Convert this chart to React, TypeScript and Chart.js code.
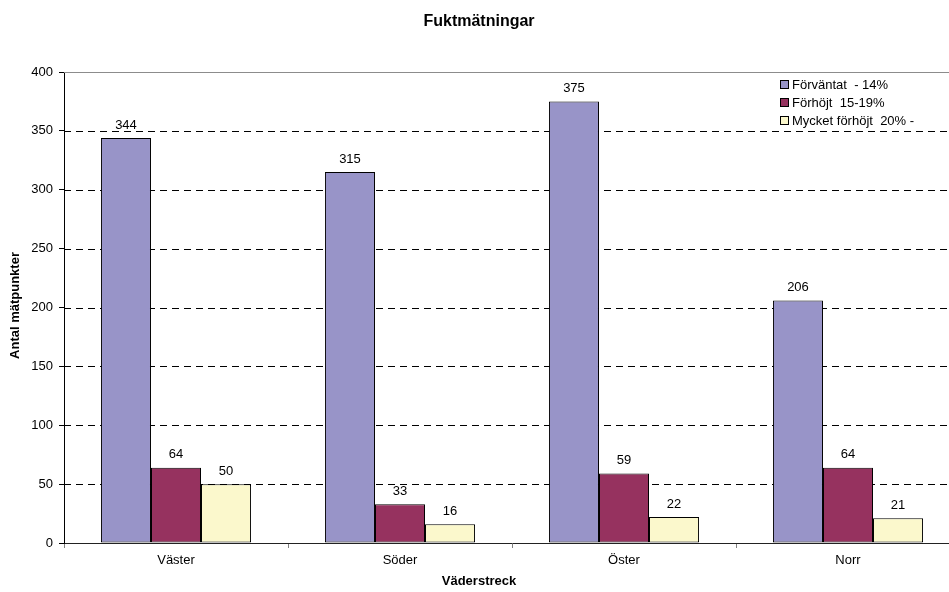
import React, { useEffect, useRef } from "react";
import { Chart, registerables } from "chart.js";

Chart.register(...registerables);

const FONT = "'Liberation Sans', Arial, Helvetica, sans-serif";

const categories = ["Väster", "Söder", "Öster", "Norr"];
const forvantat = [344, 315, 375, 206];
const forhojt = [64, 33, 59, 64];
const mycketForhojt = [50, 16, 22, 21];
const seriesNames = ["Förväntat  - 14%", "Förhöjt  15-19%", "Mycket förhöjt  20% -"];
const seriesColors = ["#9894C8", "#96325F", "#FBF8CC"];
const yTicks = [0, 50, 100, 150, 200, 250, 300, 350, 400];

const chartTitle = "Fuktmätningar";
const xTitle = "Väderstreck";
const yTitle = "Antal mätpunkter";

// Dashed horizontal grid lines, solid grey line on the top value
const gridPlugin = {
  id: "gridLines",
  beforeDatasetsDraw(chart: any) {
    const { ctx, chartArea } = chart;
    const y = chart.scales.y;
    ctx.save();
    ctx.lineWidth = 1;
    yTicks.forEach((v) => {
      if (v === 0) return;
      const py = Math.round(y.getPixelForValue(v)) + 0.5;
      ctx.beginPath();
      if (v === yTicks[yTicks.length - 1]) {
        ctx.setLineDash([]);
        ctx.strokeStyle = "#8c8c8c";
      } else {
        ctx.setLineDash([7, 5]);
        ctx.strokeStyle = "#000";
      }
      ctx.moveTo(chartArea.left, py);
      ctx.lineTo(chartArea.right, py);
      ctx.stroke();
    });
    ctx.restore();
  },
};

// Value labels above each bar
const valueLabelPlugin = {
  id: "valueLabels",
  afterDatasetsDraw(chart: any) {
    const { ctx } = chart;
    ctx.save();
    ctx.font = `13px ${FONT}`;
    ctx.fillStyle = "#000";
    ctx.textAlign = "center";
    ctx.textBaseline = "middle";
    chart.data.datasets.forEach((ds: any, di: number) => {
      const meta = chart.getDatasetMeta(di);
      meta.data.forEach((bar: any, i: number) => {
        ctx.fillText(String(ds.data[i]), bar.x, bar.y - 13);
      });
    });
    ctx.restore();
  },
};

// Chart title, axis titles and the legend inside the plot area
const textPlugin = {
  id: "texts",
  afterDraw(chart: any) {
    const { ctx, chartArea } = chart;
    ctx.save();
    ctx.fillStyle = "#000";
    ctx.textAlign = "center";
    ctx.textBaseline = "middle";

    ctx.font = `bold 16px ${FONT}`;
    ctx.fillText(chartTitle, 479, 22);

    ctx.font = `bold 13px ${FONT}`;
    ctx.fillText(xTitle, 479, 581);

    ctx.save();
    ctx.translate(15, (chartArea.top + chartArea.bottom) / 2 - 2);
    ctx.rotate(-Math.PI / 2);
    ctx.fillText(yTitle, 0, 0);
    ctx.restore();

    // legend
    ctx.font = `13px ${FONT}`;
    ctx.textAlign = "left";
    const lx = chartArea.right - 180;
    chart.data.datasets.forEach((ds: any, i: number) => {
      const cy = chartArea.top + 13 + i * 18;
      ctx.fillStyle = ds.backgroundColor;
      ctx.fillRect(lx, cy - 5, 9, 9);
      ctx.strokeStyle = "#000";
      ctx.lineWidth = 1;
      ctx.strokeRect(lx + 0.5, cy - 4.5, 8, 8);
      ctx.fillStyle = "#000";
      ctx.fillText(ds.label, lx + 12, cy);
    });
    ctx.restore();
  },
};

export default function App() {
  const ref = useRef<HTMLCanvasElement | null>(null);

  useEffect(() => {
    if (!ref.current) return;
    const chart = new Chart(ref.current, {
      type: "bar",
      data: {
        labels: categories,
        datasets: [
          { label: seriesNames[0], data: forvantat, backgroundColor: seriesColors[0] },
          { label: seriesNames[1], data: forhojt, backgroundColor: seriesColors[1] },
          { label: seriesNames[2], data: mycketForhojt, backgroundColor: seriesColors[2] },
        ].map((d) => ({
          ...d,
          borderColor: "#000",
          borderWidth: 1,
          borderSkipped: false,
          categoryPercentage: 0.67,
          barPercentage: 1,
        })),
      },
      options: {
        responsive: false,
        animation: false,
        devicePixelRatio: 1,
        layout: { padding: { top: 72, right: 2, left: 0, bottom: 0 } },
        plugins: {
          legend: { display: false },
          title: { display: false },
          tooltip: { enabled: false },
        },
        scales: {
          x: {
            type: "category",
            offset: true,
            grid: {
              offset: true,
              drawOnChartArea: false,
              drawTicks: true,
              tickLength: 5,
              color: "#808080",
            },
            border: { color: "#222", width: 1 },
            ticks: { color: "#000", font: { family: FONT, size: 13 }, padding: 5, maxRotation: 0 },
            afterFit: (s: any) => {
              s.height = 49;
            },
          },
          y: {
            min: 0,
            max: 400,
            ticks: {
              stepSize: 50,
              color: "#000",
              font: { family: FONT, size: 13 },
              padding: 6,
            },
            grid: {
              drawOnChartArea: false,
              drawTicks: true,
              tickLength: 5,
              color: "#000",
            },
            border: { color: "#000", width: 1 },
            afterFit: (s: any) => {
              s.width = 64;
            },
          },
        },
      },
      plugins: [gridPlugin, valueLabelPlugin, textPlugin],
    });
    return () => chart.destroy();
  }, []);

  return (
    <div
      style={{
        position: "absolute",
        left: 0,
        top: 0,
        width: 949,
        height: 592,
        overflow: "hidden",
        background: "#fff",
      }}
    >
      <canvas ref={ref} width={962} height={592} style={{ width: 962, height: 592, display: "block" }} />
    </div>
  );
}
